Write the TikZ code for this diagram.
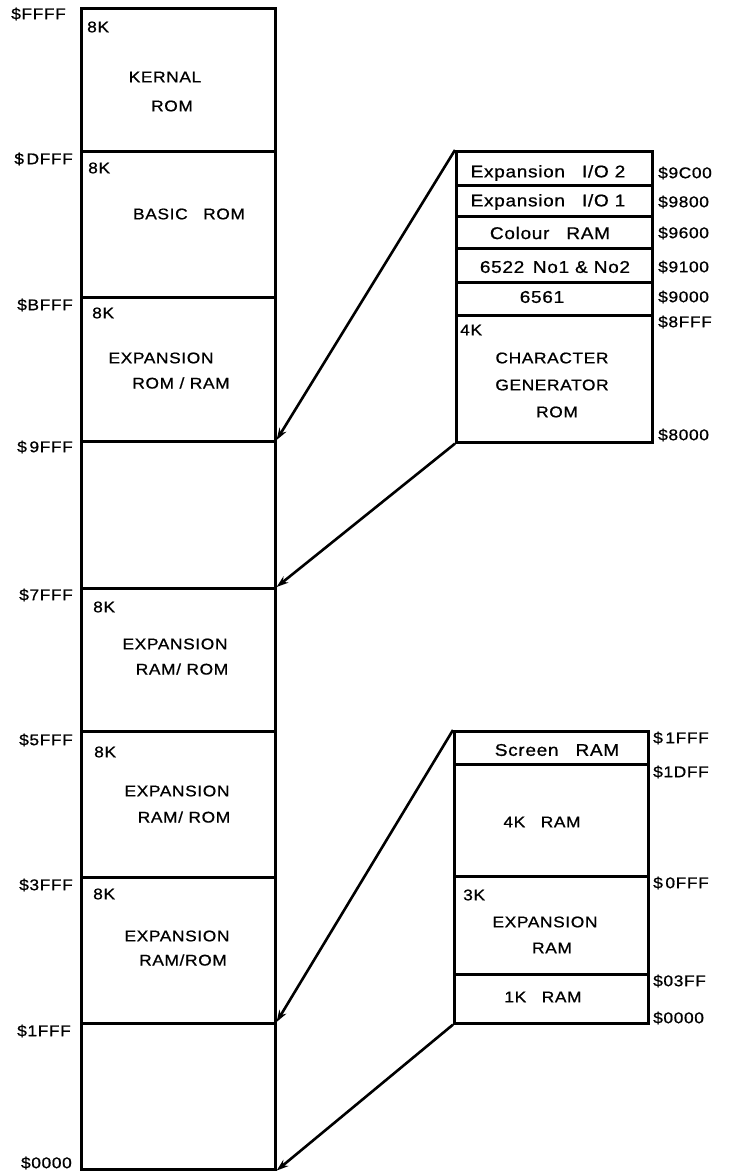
\documentclass[tikz,border=0pt]{standalone}
\usepackage{fontspec}
\setmainfont{Liberation Sans}[FakeStretch=1.12,LetterSpace=4,FakeBold=0.8]
\usetikzlibrary{arrows.meta}
\begin{document}
\begin{tikzpicture}[x=1pt,y=-1pt,
  blk/.style={draw, rectangle, line width=2.6pt, inner sep=0pt, anchor=north west},
  lw/.style={blk, minimum width=194pt},
  rw/.style={blk, minimum width=196pt},
  bw/.style={blk, minimum width=194pt},
  txt/.style={inner sep=0pt, font=\fontsize{15.5}{17}\selectfont},
  rtxt/.style={inner sep=0pt, font=\fontsize{17}{19}\selectfont},
  addr/.style={inner sep=0pt, font=\fontsize{15.5}{17}\selectfont},
  laddr/.style={addr, anchor=east},
  raddr/.style={addr, anchor=west},
  size/.style={txt, anchor=west},
  map/.style={-{Stealth[length=12pt,width=8pt]}, line width=2.6pt}]
\useasboundingbox (0,0) rectangle (730,1174);

% ---- left column ----
\node[lw, minimum height=143pt] (kernal) at (80,7) {};
\node[lw, minimum height=146pt] (basic)  at (80,150) {};
\node[lw, minimum height=144pt] (exprom) at (80,296) {};
\node[lw, minimum height=147pt] (freeA)  at (80,440) {};
\node[lw, minimum height=143pt] (expC)   at (80,587) {};
\node[lw, minimum height=146pt] (expB)   at (80,730) {};
\node[lw, minimum height=146pt] (expA)   at (80,876) {};
\node[lw, minimum height=146pt] (freeB)  at (80,1022) {};

\node[size] (k8) at (87,27) {8K};
\node[txt] (k1) at (165,77) {KERNAL};
\node[txt] (k2) at (172,106) {ROM};
\node[size] (b8) at (88,168) {8K};
\node[txt] (b1) at (189,214) {BASIC\quad ROM};
\node[size] (e8) at (92,313) {8K};
\node[txt] (e1) at (161,358) {EXPANSION};
\node[txt] (e2) at (181,383) {ROM / RAM};
\node[size] (c8) at (93,607) {8K};
\node[txt] (c1) at (175,644) {EXPANSION};
\node[txt] (c2) at (182,669) {RAM/ ROM};
\node[size] (d8) at (94,752) {8K};
\node[txt] (d1) at (177,791) {EXPANSION};
\node[txt] (d2) at (184,817) {RAM/ ROM};
\node[size] (f8) at (93,894) {8K};
\node[txt] (f1) at (177,936) {EXPANSION};
\node[txt] (f2) at (183,960) {RAM/ROM};

\node[laddr] (aFFFF) at (66,14) {\$FFFF};
\node[laddr] (aDFFF) at (73,159) {\$\,DFFF};
\node[laddr] (aBFFF) at (73,305) {\$BFFF};
\node[laddr] (a9FFF) at (73,447) {\$\,9FFF};
\node[laddr] (a7FFF) at (73,595) {\$7FFF};
\node[laddr] (a5FFF) at (73,740) {\$5FFF};
\node[laddr] (a3FFF) at (73,885) {\$3FFF};
\node[laddr] (a1FFF) at (71,1031) {\$1FFF};
\node[laddr] (a0000) at (72,1163) {\$0000};

% ---- upper detail ----
\node[rw, minimum height=34pt]  (io2) at (455,150) {};
\node[rw, minimum height=31pt]  (io1) at (455,184) {};
\node[rw, minimum height=32pt]  (col) at (455,215) {};
\node[rw, minimum height=34pt]  (via) at (455,247) {};
\node[rw, minimum height=33pt]  (vic) at (455,281) {};
\node[rw, minimum height=127pt] (chr) at (455,314) {};

\node[rtxt] (t1) at (548,173) {Expansion\quad I/O 2};
\node[rtxt] (t2) at (548,202) {Expansion\quad I/O 1};
\node[rtxt] (t3) at (550,233) {Colour\quad RAM};
\node[rtxt] (t4) at (555,267) {6522\enspace No1 \& No2};
\node[rtxt] (t5) at (542,297) {6561};
\node[size] (t6) at (460,330) {4K};
\node[txt] (t7) at (552,358) {CHARACTER};
\node[txt] (t8) at (552,385) {GENERATOR};
\node[txt] (t9) at (557,412) {ROM};

\node[raddr] (a9C00) at (658,173) {\$9C00};
\node[raddr] (a9800) at (658,202) {\$9800};
\node[raddr] (a9600) at (658,233) {\$9600};
\node[raddr] (a9100) at (658,267) {\$9100};
\node[raddr] (a9000) at (658,297) {\$9000};
\node[raddr] (a8FFF) at (658,322) {\$8FFF};
\node[raddr] (a8000) at (658,435) {\$8000};

% ---- lower detail ----
\node[bw, minimum height=33pt]  (scr)  at (453,730) {};
\node[bw, minimum height=112pt] (ramD) at (453,763) {};
\node[bw, minimum height=98pt]  (ramC) at (453,875) {};
\node[bw, minimum height=49pt]  (ramB) at (453,973) {};

\node[rtxt] (s1) at (557,750) {Screen\quad RAM};
\node[txt] (s2) at (542,822) {4K\quad RAM};
\node[size] (s3) at (463,895) {3K};
\node[txt] (s4) at (545,922) {EXPANSION};
\node[txt] (s5) at (552,948) {RAM};
\node[txt] (s6) at (543,997) {1K\quad RAM};

\node[raddr] (b1FFF) at (653,738) {\$\,1FFF};
\node[raddr] (b1DFF) at (653,772) {\$1DFF};
\node[raddr] (b0FFF) at (653,883) {\$\,0FFF};
\node[raddr] (b03FF) at (653,981) {\$03FF};
\node[raddr] (b0000) at (653,1018) {\$0000};

% ---- mapping arrows ----
\draw[map] (io2.north west) -- (freeA.north east);
\draw[map] (chr.south west) -- (expC.north east);
\draw[map] (scr.north west) -- (freeB.north east);
\draw[map] (ramB.south west) -- (freeB.south east);
\end{tikzpicture}
\end{document}
